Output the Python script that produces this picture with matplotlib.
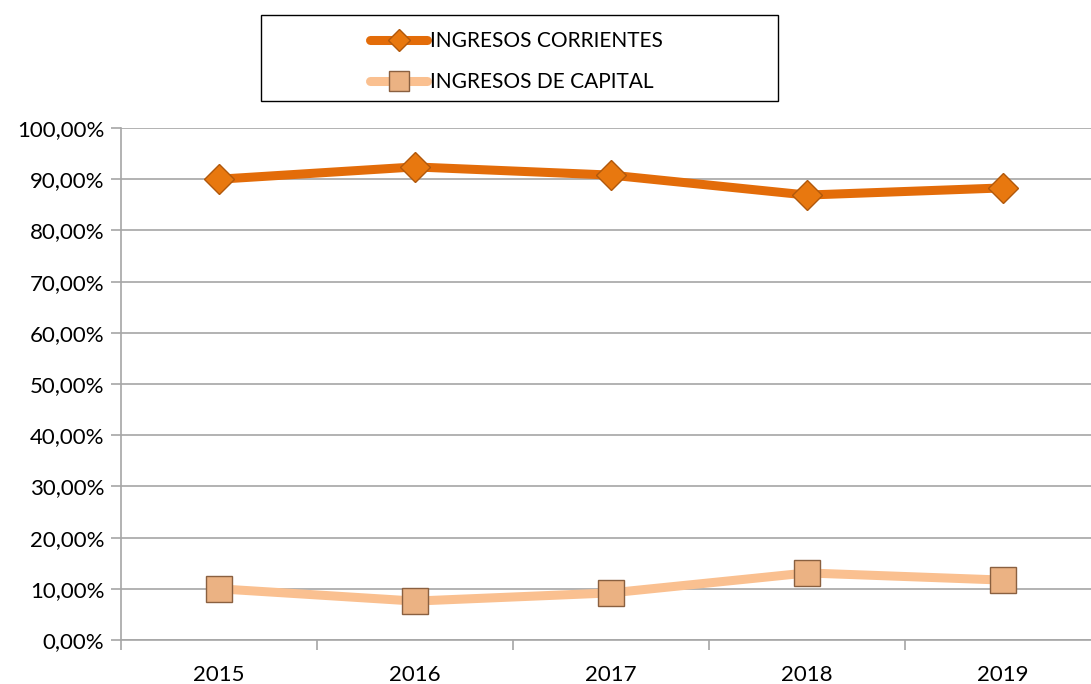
import matplotlib
matplotlib.use("Agg")
import matplotlib.pyplot as plt
from matplotlib.patches import Rectangle
from matplotlib.ticker import FuncFormatter, MultipleLocator

years = ["2015", "2016", "2017", "2018", "2019"]
corrientes = [90.0, 92.4, 90.8, 86.9, 88.3]
capital = [10.0, 7.6, 9.2, 13.1, 11.7]
labels = ["INGRESOS CORRIENTES", "INGRESOS DE CAPITAL"]

plt.rcParams['font.family'] = ['Lato', 'DejaVu Sans']

W, H = 1091, 684
fig = plt.figure(figsize=(W / 100, H / 100), dpi=100)
ax = fig.add_axes([121 / W, 1 - 640 / H, 980 / W, 512 / H])

x = list(range(len(years)))
grid_c = "#A6A6A6"

l1, = ax.plot(x, corrientes, color="#E36C09", lw=6.5, solid_capstyle="round",
              marker="D", markersize=15, markerfacecolor="#E8780F",
              markeredgecolor="#B0580C", markeredgewidth=1.0, zorder=5,
              label=labels[0])
l2, = ax.plot(x, capital, color="#FAC090", lw=6.5, solid_capstyle="round",
              marker="s", markersize=19, markerfacecolor="#EBB283",
              markeredgecolor="#8A6040", markeredgewidth=1.0, zorder=5,
              label=labels[1])

ax.set_xlim(-0.5, len(years) - 0.5)
ax.set_ylim(0, 100)
ax.yaxis.set_major_locator(MultipleLocator(10))
ax.yaxis.set_major_formatter(FuncFormatter(lambda v, p: f"{v:.2f}".replace(".", ",") + "%"))
ax.grid(axis="y", color=grid_c, lw=1.2)
ax.set_axisbelow(True)

ax.set_xticks(x)
ax.set_xticklabels(years)
ax.set_xticks([i + 0.5 for i in range(-1, len(years))], minor=True)
ax.tick_params(axis="x", which="major", length=0, pad=18, labelsize=16)
ax.tick_params(axis="x", which="minor", length=7, color=grid_c, width=1.2)
ax.tick_params(axis="y", length=7, color=grid_c, width=1.2, labelsize=16, pad=5)

for s in ["top", "right"]:
    ax.spines[s].set_visible(False)
for s in ["left", "bottom"]:
    ax.spines[s].set_color(grid_c)
    ax.spines[s].set_linewidth(1.2)

# Legend box
fig.patches.append(Rectangle((261 / W, 1 - 101 / H), 517 / W, 86 / H,
                             transform=fig.transFigure, fill=False,
                             edgecolor="black", lw=1.0))
leg = fig.legend(handles=[l1, l2], loc="upper left",
                 bbox_to_anchor=(360 / W, 1 - 21 / H),
                 frameon=False, fontsize=15, handlelength=2.7,
                 handletextpad=0.15, labelspacing=1.0, borderpad=0,
                 markerscale=0.75)

fig.savefig("out.png", dpi=100)
